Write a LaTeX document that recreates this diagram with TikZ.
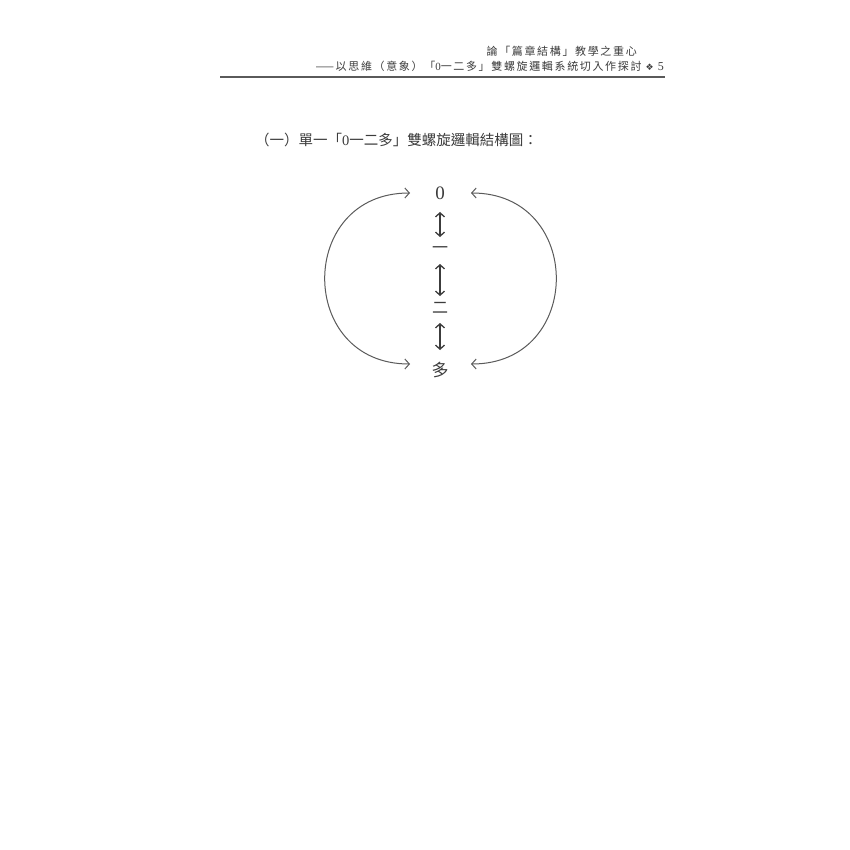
\documentclass[tikz,border=0pt]{standalone}
\usepackage{fontspec}
\setmainfont{Liberation Serif}
\newfontfamily\cjk{Noto Sans CJK TC}
\newfontfamily\cjkls[LetterSpace=15]{Noto Sans CJK TC}
\newfontfamily\rmls[LetterSpace=15]{Liberation Serif}
\newfontfamily\dejavu{DejaVu Sans}
\usetikzlibrary{arrows.meta}
\definecolor{ink}{HTML}{3C3C3C}
\definecolor{linegray}{HTML}{5A5A5A}
\begin{document}
\begin{tikzpicture}[x=1pt,y=-1pt,
  hdr/.style={inner sep=0pt, text=ink, font=\cjkls\fontsize{11}{13}\selectfont},
  lbl/.style={inner sep=0pt, text=ink},
  vlink/.style={draw=ink, line width=1.3pt, {Straight Barb[length=4pt,width=9pt]}-{Straight Barb[length=4pt,width=9pt]}},
  arc/.style={draw=linegray, line width=1pt, {Straight Barb[length=4.5pt,width=10pt]}-{Straight Barb[length=4.5pt,width=10pt]}}
]
\fill[white] (0,0) rectangle (850,850);
\useasboundingbox (0,0) rectangle (850,850);
% header
\node[hdr, anchor=east] (h1) at (637,51) {論「篇章結構」教學之重心};
\node[hdr, anchor=east] (h2) at (664,66) {——以思維（意象）「{\rmls 0}一二多」雙螺旋邏輯系統切入作探討\ {\dejavu\fontsize{9}{11}\selectfont ❖}\ {\rmfamily\fontsize{12}{13}\selectfont 5}};
\coordinate (r1) at (220,77);
\coordinate (r2) at (665,77);
\draw[linegray, line width=1.2pt] (r1) -- (r2);
% subtitle
\node[inner sep=0pt, anchor=west, text=ink, font=\cjk\fontsize{14.5}{16}\selectfont] (sub) at (255,140) {（一）單一「{\rmfamily 0}一二多」雙螺旋邏輯結構圖：};
% diagram
\node[lbl, font=\rmfamily\fontsize{19}{20}\selectfont] (n0) at (440,193) {0};
\node[lbl, font=\cjk\fontsize{16}{18}\selectfont] (n1) at (440,250) {一};
\node[lbl, font=\cjk\fontsize{16}{18}\selectfont] (n2) at (440,308) {二};
\node[lbl, font=\cjk\fontsize{17}{18}\selectfont] (n3) at (440,370) {多};
\draw[vlink, shorten <=19pt, shorten >=13pt] (n0.center) -- (n1.center);
\draw[vlink, shorten <=14pt, shorten >=12pt] (n1.center) -- (n2.center);
\draw[vlink, shorten <=15pt, shorten >=20pt] (n2.center) -- (n3.center);
\draw[arc] ([shift={(-30,0)}]n0.center) to[out=180,in=180,looseness=1.7] ([shift={(-30,-6)}]n3.center);
\draw[arc] ([shift={(31,0)}]n0.center) to[out=0,in=0,looseness=1.7] ([shift={(31,-6)}]n3.center);
\end{tikzpicture}
\end{document}
